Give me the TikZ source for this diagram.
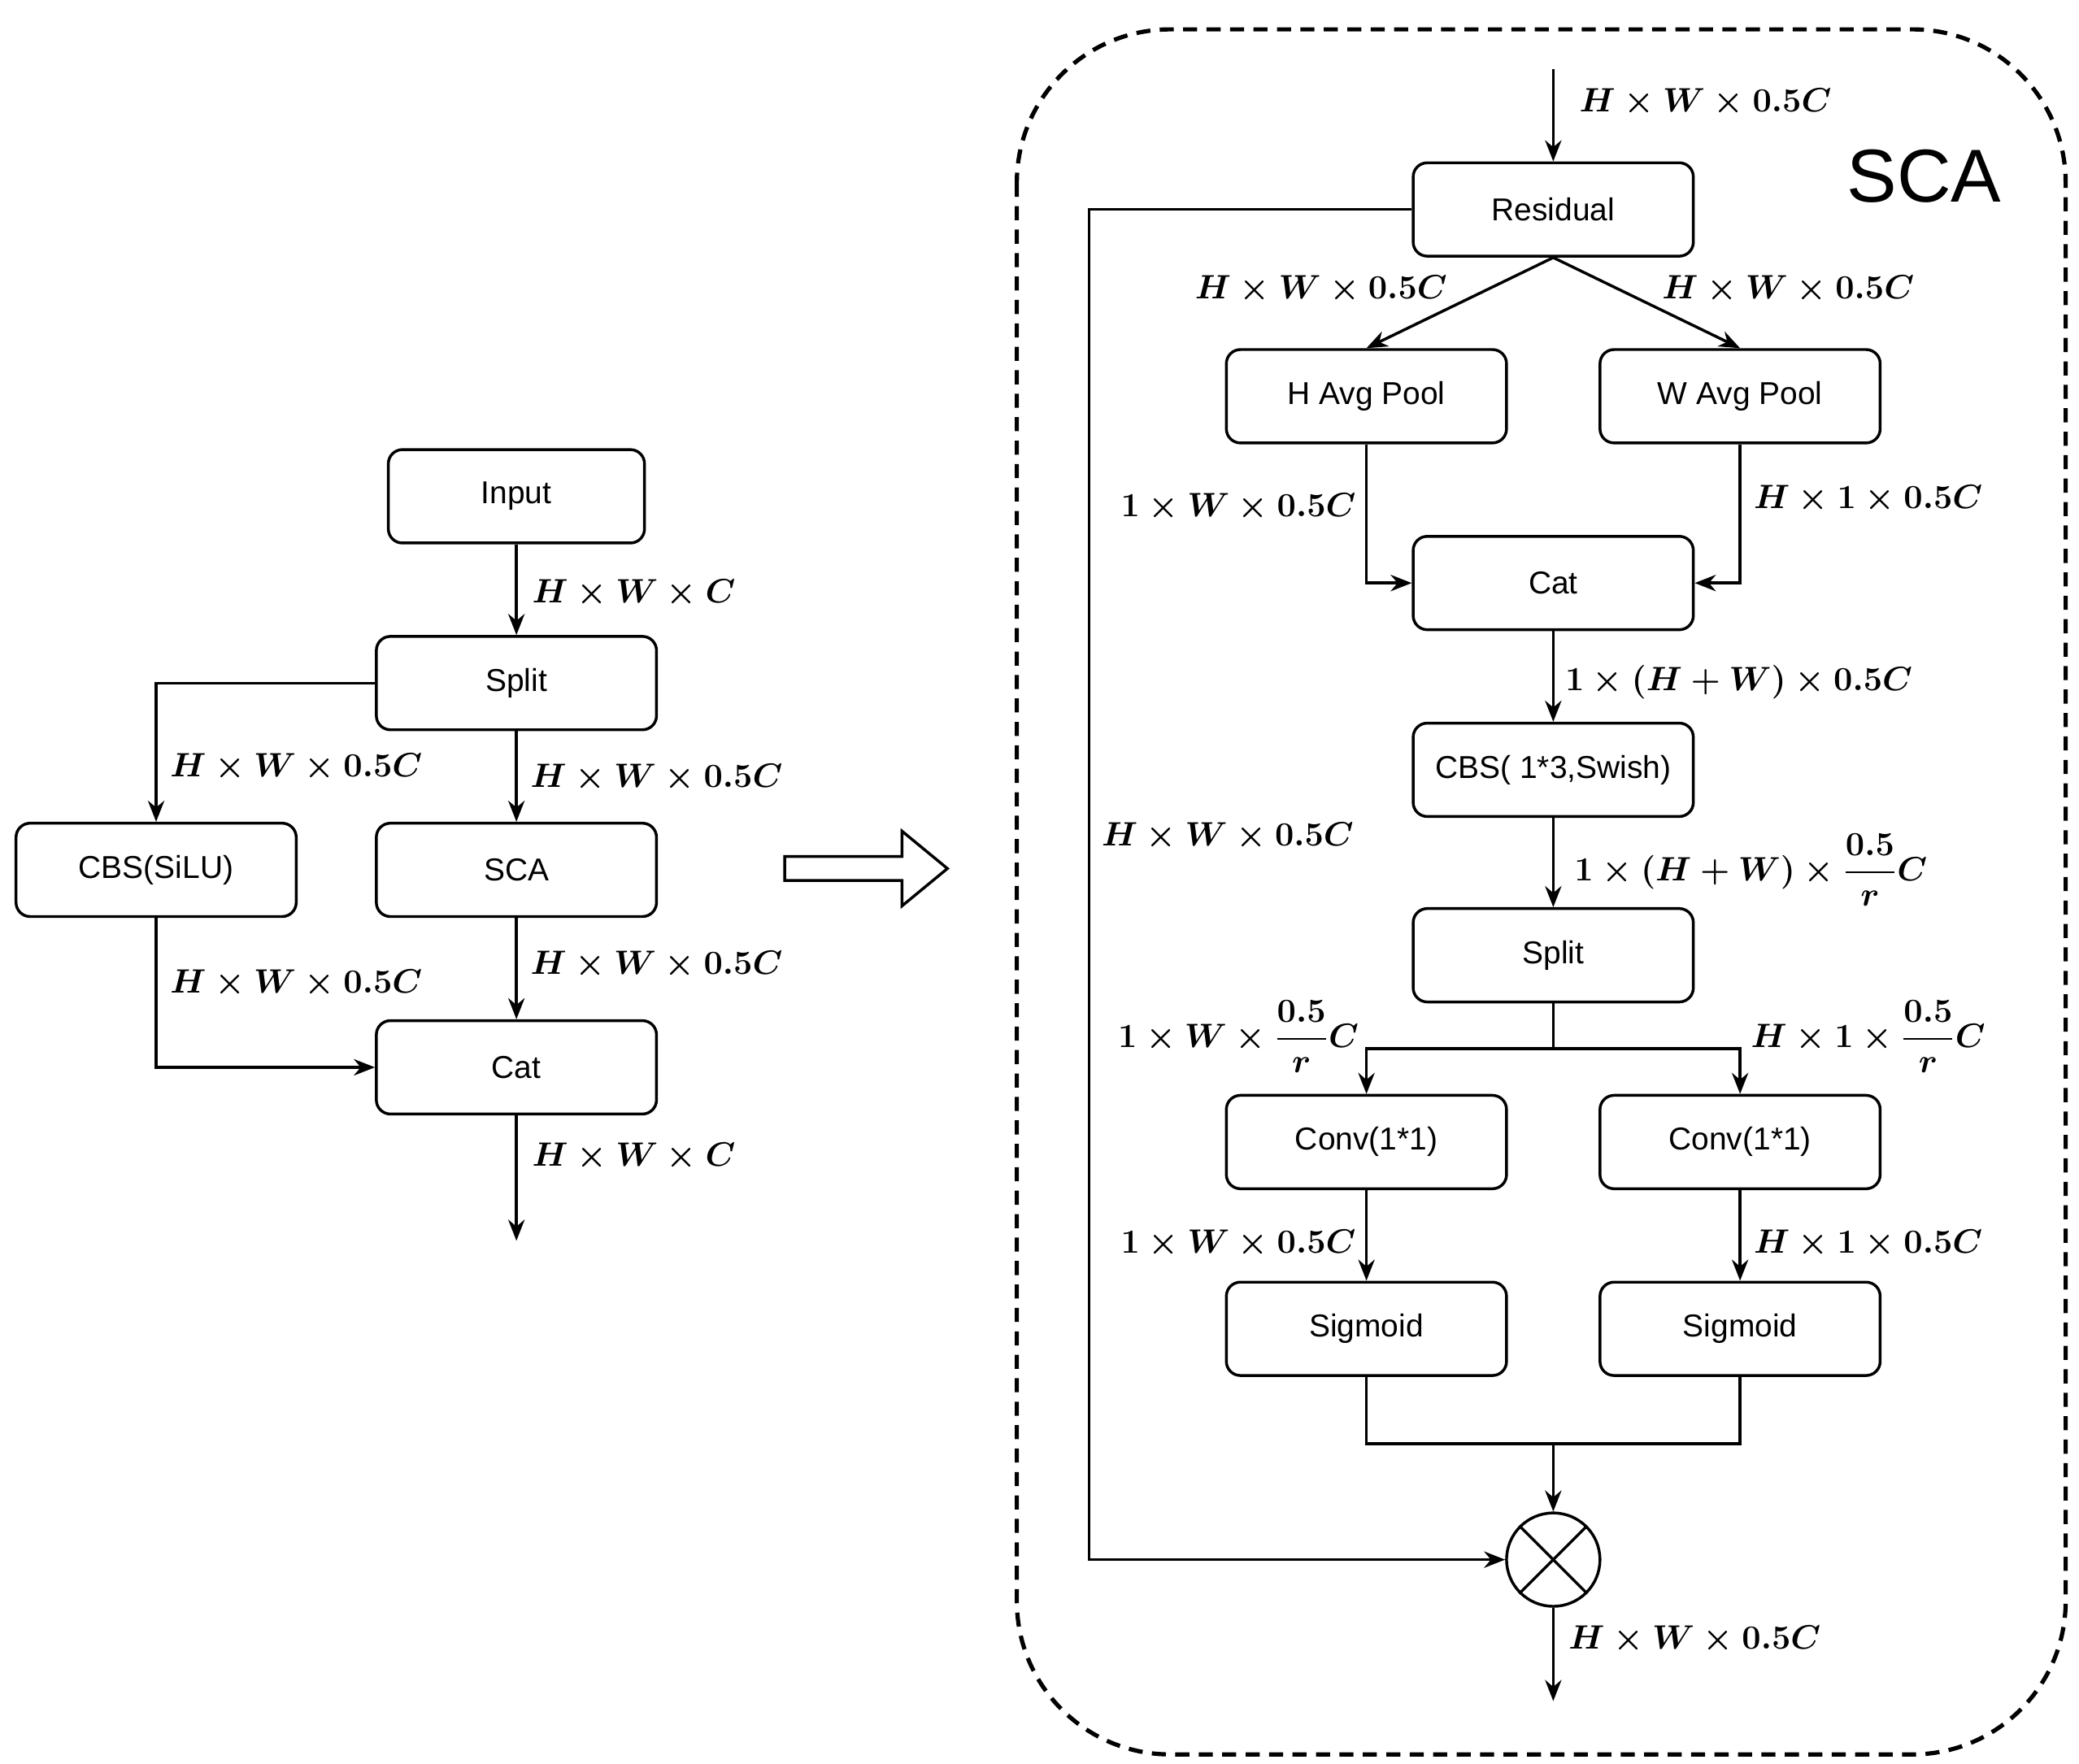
\documentclass[tikz,border=0pt]{standalone}
\usepackage{fontspec}
\setmainfont{Liberation Sans}
\usepackage{amsmath}
\usetikzlibrary{arrows.meta,shapes.geometric}
\begin{document}
\begin{tikzpicture}[x=0.02cm,y=-0.02cm,
 box/.style={draw,line width=1.2pt,rounded corners=6pt,minimum width=4.2cm,minimum height=1.4cm,font=\fontsize{13.5}{15}\selectfont},
 lab/.style={font=\fontsize{14}{17}\selectfont\boldmath},
 ar/.style={line width=1.2pt,-{Stealth[length=9pt,width=7pt]}},
 ln/.style={line width=1.2pt}]
\useasboundingbox (0,0) rectangle (1558,1322);
% left
\node[box,minimum width=3.84cm] (in) at (387,372) {Input};
\node[box] (sp) at (387,512) {Split};
\node[box] (cbs) at (117,652) {CBS(SiLU)};
\node[box] (sca) at (387,652) {SCA};
\node[box] (cat) at (387,800) {Cat};
\coordinate (out) at (387,930);
\draw[ar] (in) -- (sp);
\draw[ar] (sp) -- (sca);
\draw[ar] (sca) -- (cat);
\draw[ar] (cat) -- (out);
\draw[ar] (sp.west) -| (cbs.north);
\draw[ar] (cbs.south) |- (cat.west);
\node[lab] at (475,445) {$H\times W\times C$};
\node[lab] at (222,575) {$H\times W\times 0.5C$};
\node[lab] at (492,583) {$H\times W\times 0.5C$};
\node[lab] at (222,737) {$H\times W\times 0.5C$};
\node[lab] at (492,723) {$H\times W\times 0.5C$};
\node[lab] at (475,867) {$H\times W\times C$};
% hollow arrow
\draw[line width=1.2pt] (588,642) -- (676,642) -- (676,623) -- (710,651) -- (676,679) -- (676,660) -- (588,660) -- cycle;
% dashed frame
\draw[line width=1.8pt,dash pattern=on 6pt off 4pt,rounded corners=2.3cm] (762,22) rectangle (1548,1315);
\node[font=\fontsize{32}{36}\selectfont] at (1442,132) {SCA};
\coordinate (sin) at (1164,52);
\node[box] (res) at (1164,157) {Residual};
\node[box] (hp) at (1024,297) {H Avg Pool};
\node[box] (wp) at (1304,297) {W Avg Pool};
\node[box] (cat2) at (1164,437) {Cat};
\node[box] (cbs2) at (1164,577) {CBS( 1*3,Swish)};
\node[box] (sp2) at (1164,716) {Split};
\node[box] (c1) at (1024,856) {Conv(1*1)};
\node[box] (c2) at (1304,856) {Conv(1*1)};
\node[box] (s1) at (1024,996) {Sigmoid};
\node[box] (s2) at (1304,996) {Sigmoid};
\node[circle,draw,line width=1.2pt,minimum size=1.4cm,inner sep=0pt] (mul) at (1164,1169) {};
\draw[line width=1.2pt] (mul.north west) -- (mul.south east) (mul.north east) -- (mul.south west);
\coordinate (sout) at (1164,1275);
\draw[ar] (sin) -- (res);
\draw[ar] (res.south) -- (hp.north);
\draw[ar] (res.south) -- (wp.north);
\draw[ar] (hp.south) |- (cat2.west);
\draw[ar] (wp.south) |- (cat2.east);
\draw[ar] (cat2) -- (cbs2);
\draw[ar] (cbs2) -- (sp2);
\coordinate (j1) at (1164,786);
\draw[ln] (sp2.south) -- (j1);
\draw[ar] (j1) -| (c1.north);
\draw[ar] (j1) -| (c2.north);
\draw[ar] (c1) -- (s1);
\draw[ar] (c2) -- (s2);
\coordinate (j2) at (1164,1082);
\draw[ln] (s1.south) |- (j2) -| (s2.south);
\draw[ar] (j2) -- (mul.north);
\coordinate (rl) at (816,157);
\draw[ar] (res.west) -- (rl) |- (mul.west);
\draw[ar] (mul.south) -- (sout);
\node[lab] at (1278,77) {$H\times W\times 0.5C$};
\node[lab] at (990,217) {$H\times W\times 0.5C$};
\node[lab] at (1340,217) {$H\times W\times 0.5C$};
\node[lab] at (928,380) {$1\times W\times 0.5C$};
\node[lab] at (1400,374) {$H\times 1\times 0.5C$};
\node[lab] at (1303,511) {$1\times (H+W)\times 0.5C$};
\node[lab] at (1312,652) {$1\times (H+W)\times \dfrac{0.5}{r}C$};
\node[lab] at (920,627) {$H\times W\times 0.5C$};
\node[lab] at (928,777) {$1\times W\times \dfrac{0.5}{r}C$};
\node[lab] at (1400,777) {$H\times 1\times \dfrac{0.5}{r}C$};
\node[lab] at (928,932) {$1\times W\times 0.5C$};
\node[lab] at (1400,932) {$H\times 1\times 0.5C$};
\node[lab] at (1270,1229) {$H\times W\times 0.5C$};
\end{tikzpicture}
\end{document}
